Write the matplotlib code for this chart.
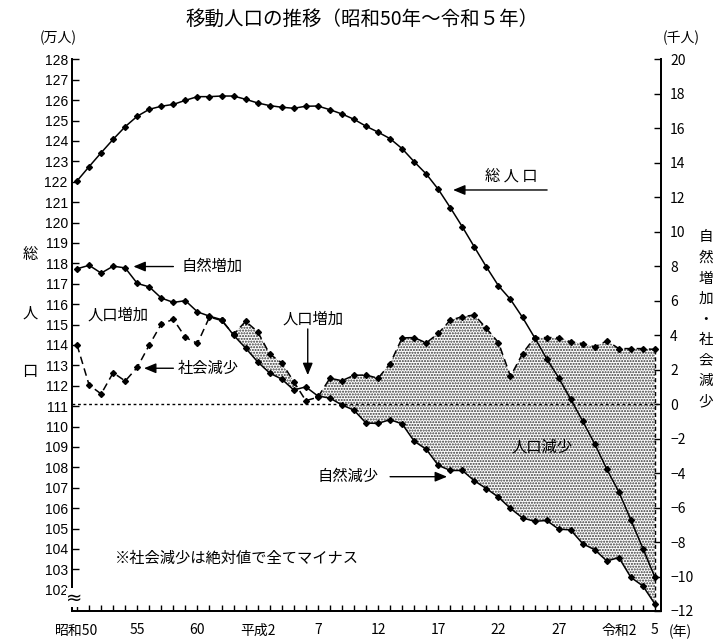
import matplotlib
matplotlib.use("Agg")
import matplotlib.pyplot as plt
import matplotlib.transforms as mtransforms
import numpy as np

plt.rcParams["font.family"] = ["Noto Sans CJK JP", "DejaVu Sans"]
plt.rcParams["hatch.linewidth"] = 1.0
plt.rcParams["axes.unicode_minus"] = True

# 昭和50年(1975) .. 令和5年(2023)
years = list(range(49))
tick_labels = {0: "昭和50", 5: "55", 10: "60", 15: "平成2", 20: "7", 25: "12",
               30: "17", 35: "22", 40: "27", 45: "令和2", 48: "5"}

# 総人口 (万人)
total = [122.04, 122.74, 123.42, 124.08, 124.70, 125.21, 125.55, 125.70, 125.79,
         125.99, 126.17, 126.17, 126.20, 126.20, 126.04, 125.86, 125.73, 125.65,
         125.60, 125.70, 125.71, 125.53, 125.32, 125.06, 124.72, 124.43, 124.11,
         123.62, 122.98, 122.38, 121.63, 120.73, 119.79, 118.80, 117.82, 116.90,
         116.23, 115.35, 114.36, 113.33, 112.39, 111.34, 110.26, 109.15, 107.91,
         106.80, 105.42, 104.02, 102.61]

# 自然増減 (千人)
natural = [7.85, 8.05, 7.60, 8.00, 7.90, 7.00, 6.80, 6.15, 5.90, 6.00, 5.35, 5.10,
           4.90, 4.00, 3.25, 2.45, 1.80, 1.45, 0.82, 1.00, 0.47, 0.35, -0.05, -0.35,
           -1.10, -1.12, -0.90, -1.15, -2.15, -2.62, -3.55, -3.85, -3.85, -4.45,
           -4.90, -5.40, -6.05, -6.60, -6.80, -6.75, -7.25, -7.30, -8.10, -8.45,
           -9.10, -8.90, -10.05, -10.55, -11.60]

# 社会減少 (千人, 絶対値)
social = [3.43, 1.11, 0.59, 1.82, 1.34, 2.13, 3.43, 4.65, 4.92, 3.87, 3.52, 5.05,
          4.85, 4.05, 4.80, 4.20, 2.90, 2.40, 1.30, 0.20, 0.40, 1.50, 1.36, 1.67,
          1.69, 1.50, 2.35, 3.84, 3.86, 3.55, 4.10, 4.87, 5.07, 5.17, 4.39, 3.57,
          1.61, 2.93, 3.86, 3.86, 3.86, 3.61, 3.51, 3.32, 3.67, 3.22, 3.22, 3.22,
          3.17]

W, H = 713, 639
fig = plt.figure(figsize=(W / 100, H / 100), dpi=100)
ax = fig.add_axes([72 / W, 1 - 611 / H, 589 / W, 551.7 / H])
ax2 = ax.twinx()
ax.set_zorder(ax2.get_zorder() + 1)
ax.patch.set_visible(False)

x = np.array(years)
nat = np.array(natural)
soc = np.array(social)

# 人口減少の範囲 (社会減少 > 自然増加)
ax2.fill_between(x, nat, soc, where=soc > nat, interpolate=True,
                 facecolor="white", edgecolor="#333333", hatch="......", linewidth=0)
ax2.axhline(0, color="black", lw=1, ls=(0, (2, 2)))
ax2.plot([x[-1], x[-1]], [nat[-1], soc[-1]], color="black", lw=1, dashes=(3, 2))
ax2.plot(x, nat, color="black", lw=1.1, marker="D", markersize=3)
ax2.plot(x, soc, color="black", lw=1.1, marker="D", markersize=3, dashes=(5, 3))
ax.plot(x, total, color="black", lw=1.1, marker="D", markersize=3)

ax.set_xlim(-0.42, 48.5)
ax.set_ylim(100.96, 128)
ax2.set_ylim(-12, 20)

ax.set_xticks(years)
ax.set_xticklabels([tick_labels.get(i, "") for i in years])
ax.set_yticks(range(102, 129))
ax2.set_yticks(range(-12, 21, 2))

ax.tick_params(axis="x", direction="in", length=4, width=1, pad=9, labelsize=10)
ax.tick_params(axis="y", direction="in", length=5, width=1, pad=3, labelsize=10)
ax2.tick_params(axis="y", direction="in", length=5, width=1, pad=6.5, labelsize=10)
for lbl in ax.get_yticklabels():
    lbl.set_fontfamily(["Liberation Sans", "DejaVu Sans"])
for lbl in ax2.get_yticklabels() + ax.get_xticklabels():
    lbl.set_fontfamily(["Liberation Sans Narrow", "Noto Sans CJK JP", "DejaVu Sans"])

for a in (ax, ax2):
    a.spines["top"].set_visible(False)
    for s in ("left", "right", "bottom"):
        a.spines[s].set_linewidth(1.3)

# 縦軸の省略記号
brk = mtransforms.blended_transform_factory(ax.transAxes, ax.transData)
ax.text(0.004, 101.6, "≈", transform=brk, ha="center", va="center", fontsize=14,
        family="DejaVu Sans", clip_on=False, zorder=10,
        bbox=dict(fc="white", ec="none", pad=0))

arrow = dict(arrowstyle="-|>,head_length=0.6,head_width=0.25", color="black",
             lw=1, mutation_scale=12, shrinkA=0, shrinkB=0)
fs = 11
ax2.text(36.05, 13.23, "総 人 口", ha="center", va="center", fontsize=fs)
ax2.annotate("", xy=(31.23, 12.42), xytext=(39.04, 12.42), arrowprops=arrow)
ax2.text(11.25, 7.98, "自然増加", ha="center", va="center", fontsize=fs)
ax2.annotate("", xy=(4.68, 7.98), xytext=(8.0, 7.98), arrowprops=arrow)
ax2.text(3.43, 5.17, "人口増加", ha="center", va="center", fontsize=fs)
ax2.text(10.9, 2.08, "社会減少", ha="center", va="center", fontsize=fs)
ax2.annotate("", xy=(5.56, 2.08), xytext=(8.0, 2.08), arrowprops=arrow)
ax2.text(19.63, 4.92, "人口増加", ha="center", va="center", fontsize=fs)
ax2.annotate("", xy=(19.16, 1.68), xytext=(19.16, 4.36), arrowprops=arrow)
ax2.text(22.5, -4.21, "自然減少", ha="center", va="center", fontsize=fs)
ax2.annotate("", xy=(30.73, -4.21), xytext=(26.0, -4.21), arrowprops=arrow)
ax2.text(38.6, -2.5, "人口減少", ha="center", va="center", fontsize=fs)
ax2.text(3.16, -8.93, "※社会減少は絶対値で全てマイナス", ha="left", va="center", fontsize=fs)

fig.text(362 / W, 1 - 19 / H, "移動人口の推移（昭和50年～令和５年）", ha="center",
         va="center", fontsize=14)
fig.text(58 / W, 1 - 38 / H, "(万人)", ha="center", va="center", fontsize=10)
fig.text(681 / W, 1 - 38 / H, "(千人)", ha="center", va="center", fontsize=10)
fig.text(680 / W, 1 - 632 / H, "(年)", ha="center", va="center", fontsize=10)

for ch, yy in zip("総人口", (254, 313, 371)):
    fig.text(30 / W, 1 - yy / H, ch, ha="center", va="center", fontsize=11)
for i, ch in enumerate("自然増加・社会減少"):
    fig.text(706 / W, 1 - (237.5 + 20.5 * i) / H, ch, ha="center", va="center",
             fontsize=10.5)

fig.savefig("out.png", dpi=100)
